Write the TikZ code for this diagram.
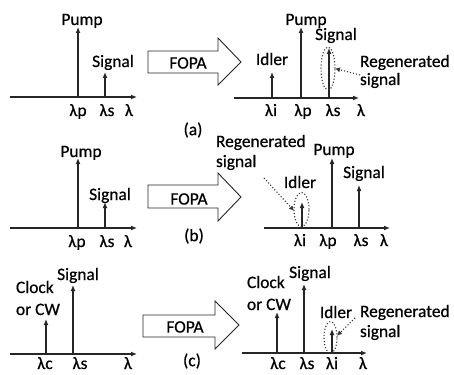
\documentclass[tikz,border=0pt]{standalone}
\usepackage{fontspec}
\setmainfont[FakeBold=0.6]{Carlito}
\usetikzlibrary{arrows.meta,shapes.geometric}
\begin{document}
\begin{tikzpicture}[x=1pt,y=-1pt,
  every node/.style={font=\fontsize{17.4}{20}\selectfont, text=black, inner sep=0pt, outer sep=0pt},
  lbl/.style={anchor=base},
  lbll/.style={anchor=base west},
  axisline/.style={draw=black!85, line width=1.3pt, -{Latex[length=6pt,width=5pt]}},
  specline/.style={draw=black!85, line width=1.3pt, -{Latex[length=6pt,width=5pt]}},
  ring/.style={draw=black!80, line width=1.1pt, dotted, ellipse},
  pointer/.style={draw=black!80, line width=1.1pt, dotted, -{Latex[length=5pt,width=5pt]}},
  fopa/.style={draw=black!85, line width=0.9pt, fill=white},
]
\useasboundingbox (0,0) rectangle (454,374);

% ================= (a) left =================
\coordinate (a1x0) at (10,97);  \coordinate (a1x1) at (137,97);
\draw[axisline] (a1x0) -- (a1x1);
\coordinate (a1p0) at (78,97);  \coordinate (a1p1) at (78,27);
\draw[specline] (a1p0) -- (a1p1);
\coordinate (a1s0) at (105,97); \coordinate (a1s1) at (105,72);
\draw[specline] (a1s0) -- (a1s1);
\node[lbl] (a1pump) at (82,25) {Pump};
\node[lbl] (a1sig) at (113,67) {Signal};
\node[lbl] (a1lp) at (78,116) {λp};
\node[lbl] (a1ls) at (107,116) {λs};
\node[lbl] (a1l) at (129,116) {λ};

% FOPA (a)
\draw[fopa] (148,51) -- (218,51) -- (218,38) -- (241,62) -- (218,85) -- (218,73) -- (148,73) -- cycle;
\node (afopa) at (188,63) {FOPA};
\node (acap) at (193,130) {(a)};

% ================= (a) right =================
\coordinate (a2x0) at (234,98); \coordinate (a2x1) at (359,98);
\draw[axisline] (a2x0) -- (a2x1);
\coordinate (a2i0) at (272,98); \coordinate (a2i1) at (272,72);
\draw[specline] (a2i0) -- (a2i1);
\coordinate (a2p0) at (301,98); \coordinate (a2p1) at (301,27);
\draw[specline] (a2p0) -- (a2p1);
\coordinate (a2s0) at (329,98); \coordinate (a2s1) at (329,48);
\draw[specline] (a2s0) -- (a2s1);
\node[ring, minimum width=14pt, minimum height=43pt] (a2e) at (328,68.5) {};
\node[lbl] (a2pump) at (306,25) {Pump};
\node[lbl] (a2sig) at (336,40) {Signal};
\node[lbl] (a2idl) at (272,65) {Idler};
\node[lbll] (a2reg) at (360,67) {Regenerated};
\node[lbll] (a2rs) at (360,85) {signal};
\coordinate (a2ptr) at (360,75);
\draw[pointer] (a2ptr) -- (a2e.east);
\node[lbl] (a2li) at (271,116) {λi};
\node[lbl] (a2lp) at (303,116) {λp};
\node[lbl] (a2ls) at (333,116) {λs};
\node[lbl] (a2l) at (361,116) {λ};

% ================= (b) left =================
\coordinate (b1x0) at (10,228);  \coordinate (b1x1) at (137,228);
\draw[axisline] (b1x0) -- (b1x1);
\coordinate (b1p0) at (78,228);  \coordinate (b1p1) at (78,158);
\draw[specline] (b1p0) -- (b1p1);
\coordinate (b1s0) at (105,228); \coordinate (b1s1) at (105,202);
\draw[specline] (b1s0) -- (b1s1);
\node[lbl] (b1pump) at (81,157) {Pump};
\node[lbl] (b1sig) at (110,200) {Signal};
\node[lbl] (b1lp) at (77,247) {λp};
\node[lbl] (b1ls) at (107,247) {λs};
\node[lbl] (b1l) at (128,247) {λ};

% FOPA (b)
\draw[fopa] (148,185) -- (218,185) -- (218,173) -- (241,197) -- (218,221) -- (218,208) -- (148,208) -- cycle;
\node (bfopa) at (189,199) {FOPA};
\node (bcap) at (194,236) {(b)};

% ================= (b) right =================
\coordinate (b2x0) at (264,228); \coordinate (b2x1) at (390,228);
\draw[axisline] (b2x0) -- (b2x1);
\coordinate (b2i0) at (302,228); \coordinate (b2i1) at (302,202);
\draw[specline] (b2i0) -- (b2i1);
\coordinate (b2p0) at (332,228); \coordinate (b2p1) at (332,158);
\draw[specline] (b2p0) -- (b2p1);
\coordinate (b2s0) at (359,228); \coordinate (b2s1) at (359,185);
\draw[specline] (b2s0) -- (b2s1);
\node[ring, minimum width=15pt, minimum height=34pt] (b2e) at (301.5,209.5) {};
\node[lbl] (b2pump) at (334,155) {Pump};
\node[lbl] (b2sig) at (364,178) {Signal};
\node[lbl] (b2idl) at (300,188) {Idler};
\node[lbll] (b2reg) at (216,147) {Regenerated};
\node[lbll] (b2rs) at (216,167) {signal};
\coordinate (b2ptr) at (264,178);
\draw[pointer] (b2ptr) -- (b2e.190);
\node[lbl] (b2li) at (300,246) {λi};
\node[lbl] (b2lp) at (328,246) {λp};
\node[lbl] (b2ls) at (361,246) {λs};
\node[lbl] (b2l) at (384,246) {λ};

% ================= (c) left =================
\coordinate (c1x0) at (10,354);  \coordinate (c1x1) at (137,354);
\draw[axisline] (c1x0) -- (c1x1);
\coordinate (c1c0) at (46,354);  \coordinate (c1c1) at (46,319);
\draw[specline] (c1c0) -- (c1c1);
\coordinate (c1s0) at (73,354);  \coordinate (c1s1) at (73,285);
\draw[specline] (c1s0) -- (c1s1);
\node[lbll] (c1clk) at (16,293) {Clock};
\node[lbll] (c1cw) at (16,315) {or CW};
\node[lbl] (c1sig) at (78,280) {Signal};
\node[lbl] (c1lc) at (45,369) {λc};
\node[lbl] (c1ls) at (80,369) {λs};
\node[lbl] (c1l) at (128,369) {λ};

% FOPA (c)
\draw[fopa] (143,315) -- (215,315) -- (215,301) -- (239,325) -- (215,349) -- (215,337) -- (143,337) -- cycle;
\node (cfopa) at (185,327) {FOPA};
\node (ccap) at (192,361) {(c)};

% ================= (c) right =================
\coordinate (c2x0) at (242,353); \coordinate (c2x1) at (367,353);
\draw[axisline] (c2x0) -- (c2x1);
\coordinate (c2c0) at (277,353); \coordinate (c2c1) at (277,312);
\draw[specline] (c2c0) -- (c2c1);
\coordinate (c2s0) at (304,353); \coordinate (c2s1) at (304,284);
\draw[specline] (c2s0) -- (c2s1);
\coordinate (c2i0) at (332,353); \coordinate (c2i1) at (332,329);
\draw[specline] (c2i0) -- (c2i1);
\node[ring, minimum width=13pt, minimum height=32pt] (c2e) at (330.5,337.5) {};
\node[lbll] (c2clk) at (247,288) {Clock};
\node[lbll] (c2cw) at (247,310) {or CW};
\node[lbl] (c2sig) at (310,278) {Signal};
\node[lbl] (c2idl) at (336,318) {Idler};
\node[lbll] (c2reg) at (360,317) {Regenerated};
\node[lbll] (c2rs) at (360,337) {signal};
\coordinate (c2ptr) at (355,318);
\draw[pointer] (c2ptr) -- (c2e.15);
\node[lbl] (c2lc) at (278,369) {λc};
\node[lbl] (c2ls) at (307,369) {λs};
\node[lbl] (c2li) at (332,369) {λi};
\node[lbl] (c2l) at (363,369) {λ};
\end{tikzpicture}
\end{document}
